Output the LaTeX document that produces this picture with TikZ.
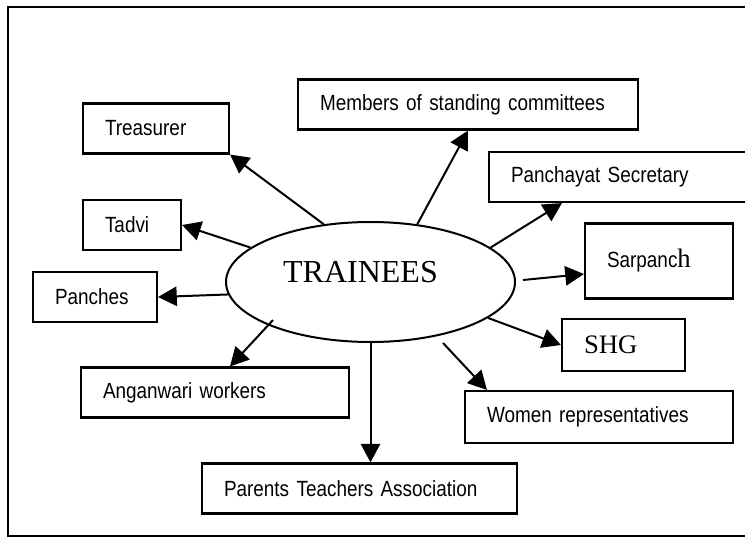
\documentclass[tikz,border=0pt]{standalone}
\usepackage{fontspec}
\setmainfont{Liberation Serif}
\newfontfamily\narrowsans[FakeStretch=0.86]{Liberation Sans}
\usetikzlibrary{arrows.meta, shapes.geometric, calc}

\begin{document}
\begin{tikzpicture}[
    x=0.75pt, y=-0.75pt,
    box/.style={
        rectangle, draw, line width=1.6pt,
        align=left, inner xsep=16.5pt, inner ysep=0pt,
        minimum height=37.5pt,
        font=\narrowsans\fontsize{16.5}{19}\selectfont
    },
    hub/.style={
        ellipse, draw, line width=1.5pt,
        minimum width=216.75pt, minimum height=90pt, inner sep=0pt
    },
    arrow/.style={-{Triangle[length=14pt,width=14.5pt]}, line width=1.5pt}
]

\useasboundingbox (0,0) rectangle (745,538);
\clip (0,0) rectangle (745,538);

% Outer frame
\draw[line width=1.5pt] (8,7) rectangle (770,536);

% Centre
\node[hub, label={[font=\fontsize{24}{28}\selectfont, xshift=-7.5pt, yshift=7.5pt]center:TRAINEES}] (tr) at (370.5,282) {};

% Boxes round the centre
\node[box, text width=222pt]    (mem) at (468,104.5)   {Members of standing committees};
\node[box, text width=76.5pt]   (tre) at (156,128.5)   {Treasurer};
\node[box, text width=177.75pt] (sec) at (629.5,177)   {Panchayat Secretary};
\node[box, text width=40.5pt]   (tad) at (132,225)     {Tadvi};
\node[box, text width=60pt]     (pan) at (95,297)      {Panches};
\node[box, text width=78pt, minimum height=56.25pt] (sar) at (659,261)
    {Sarpanc{\rmfamily\fontsize{20}{24}\selectfont h}};
\node[box, text width=59.25pt, minimum height=39pt,
      font=\rmfamily\fontsize{20}{24}\selectfont] (shg) at (623.5,345) {SHG};
\node[box, text width=168pt]    (ang) at (215,392.5)   {Anganwari workers};
\node[box, text width=168pt, minimum height=39pt] (wom) at (599,417) {Women representatives};
\node[box, text width=203.25pt] (pta) at (359.5,488.5) {Parents Teachers Association};

% Arrows out of the centre
\draw[arrow] (tr.129) -- (tre.south east);
\draw[arrow] (tr.164) -- (tad.east);
\draw[arrow] (tr.185) -- (pan.east);
\draw[arrow] (tr.51)  -- (mem.south);
\draw[arrow] (tr.16)  -- ($(sec.south west)+(74,0)$);
\draw[arrow] ($(tr.east)+(7,-2)$) -- ($(sar.west)+(0,13)$);
\draw[arrow] (tr.-17) -- (shg.west);
\draw[arrow] ($(tr.center)+(72.5,61)$)  -- ($(wom.north west)+(23,0)$);
\draw[arrow] ($(tr.center)+(-97.5,38)$) -- ($(ang.north)+(15,0)$);
\draw[arrow] (tr.south) -- (tr.south |- pta.north);

\end{tikzpicture}
\end{document}
